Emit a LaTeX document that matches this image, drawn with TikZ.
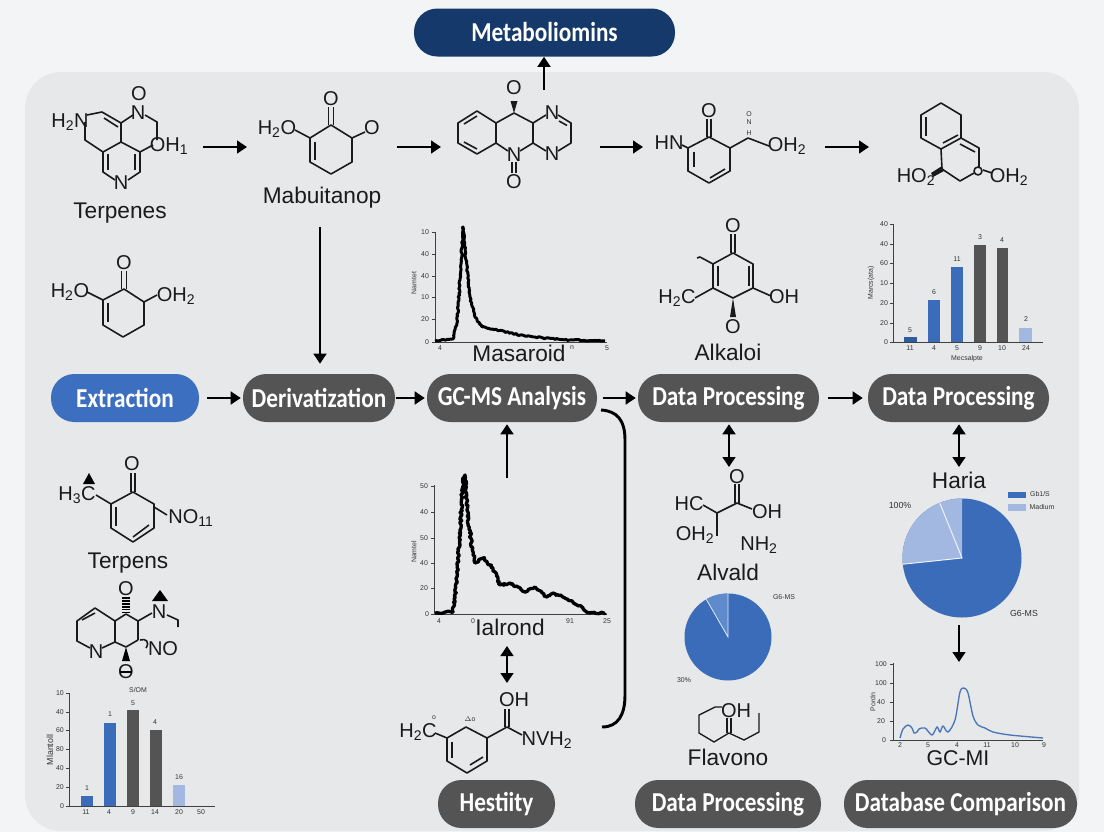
\documentclass[tikz,border=0pt]{standalone}
\usepackage{fontspec}
\setmainfont{Liberation Sans}
\newfontfamily\pillfont[FakeStretch=0.85]{Carlito}
\usetikzlibrary{arrows.meta,decorations.pathmorphing}
\definecolor{pagebg}{HTML}{F3F4F5}
\definecolor{panelbg}{HTML}{E6E8EA}
\definecolor{pillgrey}{HTML}{545454}
\definecolor{pillblue}{HTML}{3D6FC0}
\definecolor{pillnavy}{HTML}{16396B}
\definecolor{barblue}{HTML}{3A6CB9}
\definecolor{bardark}{HTML}{2F5C9E}
\definecolor{barlight}{HTML}{A3B8E0}
\definecolor{slicemid}{HTML}{5F8ACB}
\definecolor{inktext}{HTML}{1A1A1A}
\definecolor{curveblue}{HTML}{4A76B8}
\newcounter{nn}
\newcommand{\T}[4][]{\stepcounter{nn}\node[#1] (n\thenn) at (#2,#3) {#4};}
\newcommand{\sub}[1]{\textsubscript{#1}}
\tikzset{
  pill/.style={rectangle,rounded corners=17.5pt,minimum height=36pt,text=white,inner sep=0pt,
    font=\pillfont\bfseries\fontsize{20.5}{22}\selectfont,fill=pillgrey},
  arr/.style={line width=2.2pt,-{Triangle[length=7.5pt,width=9.5pt]},black},
  darr/.style={line width=2.2pt,{Triangle[length=7.5pt,width=9.5pt]}-{Triangle[length=7.5pt,width=9.5pt]},black},
  bond/.style={line width=1.2pt,inktext,line join=round},
  atom/.style={inner sep=0pt,text=inktext,font=\fontsize{15}{17}\selectfont},
  lab/.style={inner sep=0pt,text=inktext,font=\fontsize{17}{19}\selectfont},
  tiny/.style={inner sep=0pt,text=black!80,font=\fontsize{5.2}{6}\selectfont},
  small/.style={inner sep=0pt,text=black!80,font=\fontsize{6.6}{8}\selectfont},
  axis/.style={line width=0.7pt,black!75},
  jag/.style={line width=2.5pt,black,line join=round,decorate,
    decoration={random steps,segment length=1.3pt,amplitude=0.9pt}},
}
\begin{document}
\begin{tikzpicture}[x=0.75pt,y=-0.75pt]
\useasboundingbox (0,0) rectangle (1104,832);
\fill[pagebg] (0,0) rectangle (1104,832);
\fill[panelbg,rounded corners=27pt] (25,72) rectangle (1079,831);

% pills
\node[pill,fill=pillnavy,minimum width=195.75pt] (meta) at (544.5,32.5) {Metaboliomins};
\node[pill,fill=pillblue,minimum width=111pt] (extr) at (125,398) {Extraction};
\node[pill,minimum width=114pt] (deriv) at (319,398) {Derivatization};
\node[pill,minimum width=127.5pt] (gc) at (512,398) {GC-MS Analysis};
\node[pill,minimum width=135.75pt] (dp1) at (728.5,398) {Data Processing};
\node[pill,minimum width=135.75pt] (dp2) at (958.5,398) {Data Processing};
\node[pill,minimum width=87.75pt] (hest) at (496.5,804) {Hestiity};
\node[pill,minimum width=139.5pt] (dp3) at (728,804) {Data Processing};
\node[pill,minimum width=174.75pt] (db) at (960.5,804) {Database Comparison};

% connector end points
\coordinate (r1a) at (203,147); \coordinate (r1b) at (247,147);
\coordinate (r2a) at (397,147); \coordinate (r2b) at (441,147);
\coordinate (r3a) at (600,147); \coordinate (r3b) at (643,147);
\coordinate (r4a) at (825,147); \coordinate (r4b) at (869,147);
\coordinate (upm) at (544,90);
\coordinate (mabd) at (320,227);
\coordinate (upg) at (507,478);
\coordinate (dga) at (507,646); \coordinate (dgb) at (507,683);
\coordinate (dd1) at (729,467);
\coordinate (dd2) at (959,467);
\coordinate (pa) at (959,625); \coordinate (pb) at (959,662);
\coordinate (bra) at (601,410); \coordinate (brb) at (602,727);

% connectors
\draw[arr] (r1a) -- (r1b);
\draw[arr] (r2a) -- (r2b);
\draw[arr] (r3a) -- (r3b);
\draw[arr] (r4a) -- (r4b);
\draw[arr] (upm) -- (upm |- meta.south);
\draw[arr,shorten >=7.5pt] (mabd) -- (mabd |- deriv.north);
\draw[arr,shorten <=6pt,shorten >=1.5pt] (extr.east) -- (deriv.west);
\draw[arr,shorten <=0.75pt,shorten >=1.5pt] (deriv.east) -- (gc.west);
\draw[arr,shorten <=4.5pt,shorten >=1.5pt] (gc.east) -- (dp1.west);
\draw[arr,shorten <=6.75pt,shorten >=3.75pt] (dp1.east) -- (dp2.west);
\draw[arr,shorten >=1.5pt] (upg) -- (upg |- gc.south);
\draw[darr] (dga) -- (dgb);
\draw[darr,shorten >=1.5pt] (dd1) -- (dd1 |- dp1.south);
\draw[darr,shorten >=1.5pt] (dd2) -- (dd2 |- dp2.south);
\draw[arr] (pa) -- (pb);
\draw[line width=2.2pt,black] (bra) .. controls (617,411) and (625,420) .. (625,440) -- (625,695) .. controls (625,715) and (618,727) .. (brb);

% molecule 1
\T[atom]{70}{122}{H\sub{2}N}
\T[atom]{139}{94}{O}
\T[atom]{138}{113}{N}
\T[atom]{169}{146}{OH\sub{1}}
\T[atom]{121}{183}{N}
\T[lab]{120}{213}{Terpenes}
\draw[bond] (87,115) -- (102,112) -- (121,123) -- (133,115);
\draw[bond] (104,118) -- (118,127);
\draw[bond] (145,115) -- (157,122) -- (157,140);
\draw[bond] (121,123) -- (121,142) -- (140,152) -- (153,145);
\draw[bond] (121,142) -- (103,152) -- (85,140) -- (85,122);
\draw[bond] (103,152) -- (103,172) -- (115,180);
\draw[bond] (108,154) -- (108,170);
\draw[bond] (128,180) -- (140,172) -- (140,152);
\draw[bond] (135,154) -- (135,170);

% molecule 2
\T[atom]{331}{99}{O}
\T[atom]{372}{128}{O}
\T[atom]{277}{129}{H\sub{2}O}
\T[lab]{322}{198}{Mabuitanop}
\draw[bond] (328.5,107) -- (328.5,125);
\draw[bond] (333.5,107) -- (333.5,125);
\draw[bond] (365,132) -- (352,138) -- (352,162) -- (331,174) -- (310,162) -- (310,138) -- (331,125) -- (352,138);
\draw[bond] (315,142) -- (315,160);
\draw[bond] (310,138) -- (295,130);

% molecule 3
\T[atom]{124}{263}{O}
\T[atom]{176}{296}{OH\sub{2}}
\T[atom]{70}{292}{H\sub{2}O}
\draw[bond] (121.5,271) -- (121.5,289);
\draw[bond] (126.5,271) -- (126.5,289);
\draw[bond] (157,295) -- (144,302) -- (144,325) -- (123,337) -- (103,325) -- (103,300) -- (124,289) -- (144,302);
\draw[bond] (108,303) -- (108,322);
\draw[bond] (103,300) -- (87,292);

% molecule 4
\T[atom]{514}{88}{O}
\T[atom]{552}{113}{N}
\T[atom]{552}{154}{N}
\T[atom]{514}{155}{N}
\T[atom]{514}{182}{O}
\fill[inktext] (514,113) -- (510.5,101) -- (517.5,101) -- cycle;
\draw[bond] (496,123) -- (477,111) -- (458,123) -- (458,143) -- (477,154) -- (496,143) -- cycle;
\draw[bond] (464,124) -- (477,116);
\draw[bond] (464,142) -- (477,149);
\draw[bond] (496,123) -- (514,113) -- (533,123) -- (533,143) -- (520,151);
\draw[bond] (496,143) -- (508,151);
\draw[bond] (512,162) -- (512,173);
\draw[bond] (516,162) -- (516,173);
\draw[bond] (533,123) -- (546,115);
\draw[bond] (558,115) -- (571,123) -- (571,143) -- (558,151);
\draw[bond] (559,121) -- (567,125.5);
\draw[bond] (533,143) -- (546,151);

% molecule 5
\T[atom]{669}{143}{HN}
\T[atom]{709}{111}{O}
\T[atom]{787}{146}{OH\sub{2}}
\T[tiny]{749}{114}{O}
\T[tiny]{749}{122}{N}
\T[tiny]{749}{133}{H}
\draw[bond] (707,119) -- (707,137);
\draw[bond] (711,119) -- (711,137);
\draw[bond] (682,145) -- (688,148) -- (688,171) -- (709,183) -- (730,171) -- (730,148) -- (709,137) -- (688,148);
\draw[bond] (694,152) -- (694,167);
\draw[bond] (710,178) -- (725,169);
\draw[bond] (730,148) -- (748,138) -- (769,146);

% molecule 6
\T[atom]{916}{177}{HO\sub{2}}
\T[atom]{1009}{177}{OH\sub{2}}
\draw[bond] (941,103) -- (961,115) -- (961,138) -- (941,149) -- (921,138) -- (921,115) -- cycle;
\draw[bond] (926,117) -- (926,136);
\draw[bond] (943,143) -- (958,135);
\draw[bond] (961,138) -- (979,148) -- (979,167);
\draw[bond] (960,144) -- (975,152);
\draw[bond] (978,171) circle[radius=4];
\draw[bond] (974,173) -- (960,181) -- (942,169) -- (941,149);
\fill[inktext] (942,166) -- (944,171) -- (933,177) -- (931,173) -- cycle;
\draw[bond] (983,170) -- (992,173);

% molecule 7
\T[atom]{733}{226}{O}
\T[atom]{733}{327}{O}
\T[atom]{677}{298}{H\sub{2}C}
\T[atom]{784}{297}{OH}
\T[lab]{728}{352}{Alkaloi}
\draw[bond] (731,234) -- (731,253);
\draw[bond] (735,234) -- (735,253);
\draw[bond] (733,253) -- (713,264) -- (713,288) -- (733,298) -- (753,288) -- (753,264) -- cycle;
\draw[bond] (718,266) -- (718,286);
\draw[bond] (749,266) -- (749,286);
\fill[inktext] (733,298) -- (730,317) -- (736,317) -- cycle;
\draw[bond] (713,264) -- (700,257) -- (697,258);
\draw[bond] (713,288) -- (695,298);
\draw[bond] (753,288) -- (771,296);

% molecule 8
\T[atom]{132}{464}{O}
\T[atom]{77}{495}{H\sub{3}C}
\T[atom]{191}{518}{NO\sub{11}}
\T[lab]{128}{563}{Terpens}
\fill[black] (89,473) -- (83,484) -- (95,484) -- cycle;
\draw[bond] (131,473) -- (131,492);
\draw[bond] (135,473) -- (135,492);
\draw[bond] (133,492) -- (111,504) -- (111,528) -- (133,542) -- (154,528) -- (154,504) -- cycle;
\draw[bond] (116,507) -- (116,526);
\draw[bond] (133,537) -- (149,525);
\draw[bond] (111,504) -- (96,495);
\draw[bond] (154,507) -- (167,515);

% molecule 9
\T[atom]{126}{589}{O}
\T[atom]{159}{612}{N}
\T[atom]{96}{652}{N}
\T[atom]{163}{649}{NO}
\T[atom]{126}{672}{O}
\fill[black] (160,590) -- (152,601) -- (168,601) -- cycle;
\draw[line width=6pt,black,dash pattern=on 1.3pt off 0.9pt] (126,597) -- (126,613);
\draw[bond] (126,614) -- (138,621) -- (138,640);
\draw[bond] (126,614) -- (115,621) -- (95,608) -- (77,621) -- (77,641) -- (90,648);
\draw[bond] (82,620) -- (95,613);
\draw[bond] (102,648) -- (115,642) -- (126,647) -- (138,640);
\draw[bond] (115,621) -- (115,642);
\draw[bond] (138,621) -- (152,613);
\draw[bond] (167,615) -- (178,620) -- (178,627);
\draw[bond] (140,640) .. controls (146,638) and (150,642) .. (146,648);
\fill[black] (126,647) -- (122,661) -- (130,661) -- cycle;
\draw[line width=1.1pt,black] (120,672) -- (132,672);

% molecule 10
\T[atom]{418}{732}{H\sub{2}C}
\T[tiny]{434}{718}{o}
\T[tiny]{470}{719}{$\Delta$o}
\T[atom]{514}{700}{OH}
\T[atom]{547}{740}{NVH\sub{2}}
\draw[bond] (435,733) -- (447,738) -- (447,761) -- (467,773) -- (487,761) -- (487,738) -- (466,727) -- (447,738);
\draw[bond] (452,742) -- (452,758);
\draw[bond] (470,765) -- (483,757);
\draw[bond] (487,738) -- (507,727) -- (522,735);
\draw[bond] (505,709) -- (505,727);
\draw[bond] (509,709) -- (509,727);

% molecule 11
\T[atom]{737}{477}{O}
\T[atom]{689}{504}{HC}
\T[atom]{695}{535}{OH\sub{2}}
\T[atom]{767}{512}{OH}
\T[atom]{759}{545}{NH\sub{2}}
\T[lab]{728}{572}{Alvald}
\draw[bond] (735,484) -- (735,503);
\draw[bond] (739,484) -- (739,503);
\draw[bond] (703,505) -- (717,513) -- (737,503) -- (752,509);
\draw[bond] (717,513) -- (717,536);

% flavono
\T[atom]{736}{711}{OH}
\T[lab]{728}{757}{Flavono}
\draw[line width=1pt,inktext] (722,707) -- (715,707) -- (699,715) -- (699,733) -- (714,742) -- (729,733) -- (744,740) -- (759,732) -- (759,713);
\draw[bond] (727,718) -- (727,733);
\draw[bond] (731,718) -- (731,733);

% other labels
\T[lab]{519}{353}{Masaroid}
\T[lab]{510}{627}{Ialrond}
\T[lab]{959}{480}{Haria}
\T[lab,font=\fontsize{16}{18}\selectfont]{958}{758}{GC-MI}

% pie 1
\begin{scope}[shift={(728,637)},y=0.75pt]
\fill[barblue] (0,0) circle[radius=43.5];
\fill[slicemid] (0,0) -- (90:43.5) arc[start angle=90,end angle=120,radius=43.5] -- cycle;
\draw[white!85!barblue,line width=0.6pt] (90:43.5) -- (0,0) -- (120:43.5);
\end{scope}
\T[tiny]{784}{597}{G6-MS}
\T[tiny]{684}{680}{30\%}

% pie 2
\begin{scope}[shift={(962,558)},y=0.75pt]
\fill[barblue] (0,0) circle[radius=59.5];
\fill[barlight] (0,0) -- (90:59.5) arc[start angle=90,end angle=186,radius=59.5] -- cycle;
\draw[white!85!barlight,line width=0.7pt] (186:59.5) -- (0,0) -- (112:59.5);
\end{scope}
\fill[barblue] (1008,492) rectangle (1026,498);
\fill[barlight] (1008,504) rectangle (1026,511);
\T[tiny]{1040}{494}{Gb1/S}
\T[tiny]{1042}{507}{Madium}
\T[small]{900}{505}{100\%}
\T[small]{1024}{613}{G6-MS}

% line chart (blue)
\draw[axis] (893,663) -- (893,740) -- (1043,740);
\foreach \yy in {664,683,702,721,740} {\draw[axis] (890,\yy) -- (893,\yy);}
\T[tiny]{881}{664}{100}
\T[tiny]{881}{683}{100}
\T[tiny]{881}{702}{40}
\T[tiny]{881}{721}{20}
\T[tiny]{884}{740}{0}
\T[tiny]{900}{745}{2}
\T[tiny]{928}{745}{5}
\T[tiny]{957}{745}{4}
\T[tiny]{987}{745}{11}
\T[tiny]{1015}{745}{10}
\T[tiny]{1044}{745}{9}
\T[tiny,rotate=90]{873}{702}{Pordn}
\draw[curveblue,line width=1pt] plot[smooth,tension=0.5] coordinates {(900,738) (903,729) (908,725) (912,728) (914,733) (917,732) (919,729) (925,728) (932,735) (937,727) (940,732) (943,726) (948,732) (955,720) (960,692) (964,688) (968,693) (973,716) (978,725) (985,728) (993,732) (1010,735) (1043,738)};

% chromatogram 1
\draw[axis] (435,232) -- (435,342) -- (607,342);
\foreach \yy in {232,254,276,297,319,342} {\draw[axis] (432,\yy) -- (435,\yy);}
\T[tiny]{425}{232}{10}
\T[tiny]{425}{254}{40}
\T[tiny]{425}{276}{40}
\T[tiny]{425}{297}{10}
\T[tiny]{425}{319}{20}
\T[tiny]{427}{342}{0}
\T[tiny]{440}{348}{4}
\T[tiny]{572}{348}{n}
\T[tiny]{607}{348}{5}
\T[tiny,rotate=90]{414}{283}{Namtet}
\pgfmathsetseed{7}
\draw[jag,line width=2.2pt,decoration={amplitude=0.5pt}] (435,341) -- (453,339) -- (457,323) -- (460,280) -- (463,227) -- (466,260) -- (470,297) -- (475,317) -- (482,327) -- (497,330) -- (520,335) -- (543,338) -- (570,340) -- (605,341);

% chromatogram 2
\draw[axis] (434,485) -- (434,614) -- (607,614);
\foreach \yy in {486,512,538,563,588,614} {\draw[axis] (431,\yy) -- (434,\yy);}
\T[tiny]{424}{486}{50}
\T[tiny]{424}{512}{40}
\T[tiny]{424}{538}{50}
\T[tiny]{424}{563}{40}
\T[tiny]{424}{588}{20}
\T[tiny]{427}{614}{0}
\T[tiny]{439}{621}{4}
\T[tiny]{473}{621}{0}
\T[tiny]{570}{621}{91}
\T[tiny]{607}{621}{25}
\T[tiny,rotate=90]{414}{552}{Namtel}
\pgfmathsetseed{11}
\draw[jag] (435,613) -- (453,612) -- (457,577) -- (460,530) -- (463,480) -- (465,475) -- (467,510) -- (472,547) -- (475,563) -- (483,558) -- (493,568) -- (500,585) -- (510,583) -- (525,592) -- (535,587) -- (547,597) -- (553,593) -- (572,601) -- (590,613) -- (605,613);

% bar chart top right
\draw[axis] (893,224) -- (893,342) -- (1043,342);
\foreach \yy in {224,244,263,283,303,323,342} {\draw[axis] (890,\yy) -- (893,\yy);}
\T[tiny]{884}{224}{40}
\T[tiny]{884}{244}{40}
\T[tiny]{884}{263}{60}
\T[tiny]{884}{283}{10}
\T[tiny]{884}{303}{20}
\T[tiny]{884}{323}{20}
\T[tiny]{886}{342}{0}
\fill[bardark] (904,337) rectangle (917,342);
\fill[barblue] (928,300) rectangle (940,342);
\fill[barblue] (951,267) rectangle (963,342);
\fill[pillgrey] (974,245) rectangle (986,342);
\fill[pillgrey] (997,248) rectangle (1008,342);
\fill[barlight] (1019,328) rectangle (1032,342);
\T[tiny]{910}{330}{5}
\T[tiny]{934}{292}{6}
\T[tiny]{957}{259}{11}
\T[tiny]{980}{237}{3}
\T[tiny]{1002}{240}{4}
\T[tiny]{1026}{319}{2}
\T[tiny]{910}{348}{11}
\T[tiny]{934}{348}{4}
\T[tiny]{957}{348}{5}
\T[tiny]{980}{348}{9}
\T[tiny]{1002}{348}{10}
\T[tiny]{1026}{348}{24}
\T[tiny]{967}{359}{Mecsalpte}
\T[tiny,rotate=90]{871}{283}{Marcs(ata)}

% bar chart bottom left
\draw[axis] (69,693) -- (69,806) -- (215,806);
\foreach \yy in {693,712,730,749,768,787,806} {\draw[axis] (66,\yy) -- (69,\yy);}
\T[tiny]{60}{693}{10}
\T[tiny]{60}{712}{40}
\T[tiny]{60}{730}{60}
\T[tiny]{60}{749}{80}
\T[tiny]{60}{768}{40}
\T[tiny]{60}{787}{20}
\T[tiny]{62}{806}{0}
\fill[barblue] (81,796) rectangle (93,806);
\fill[barblue] (104,723) rectangle (116,806);
\fill[pillgrey] (127,710) rectangle (139,806);
\fill[pillgrey] (150,730) rectangle (162,806);
\fill[barlight] (173,785) rectangle (185,806);
\T[tiny]{87}{788}{1}
\T[tiny]{110}{714}{1}
\T[tiny]{133}{703}{5}
\T[tiny]{155}{722}{4}
\T[tiny]{179}{777}{16}
\T[tiny]{138}{690}{S/OM}
\T[tiny]{86}{812}{11}
\T[tiny]{109}{812}{4}
\T[tiny]{133}{812}{9}
\T[tiny]{155}{812}{14}
\T[tiny]{179}{812}{20}
\T[tiny]{201}{812}{50}
\T[small,rotate=90]{50}{750}{Mlantoll}
\end{tikzpicture}
\end{document}
